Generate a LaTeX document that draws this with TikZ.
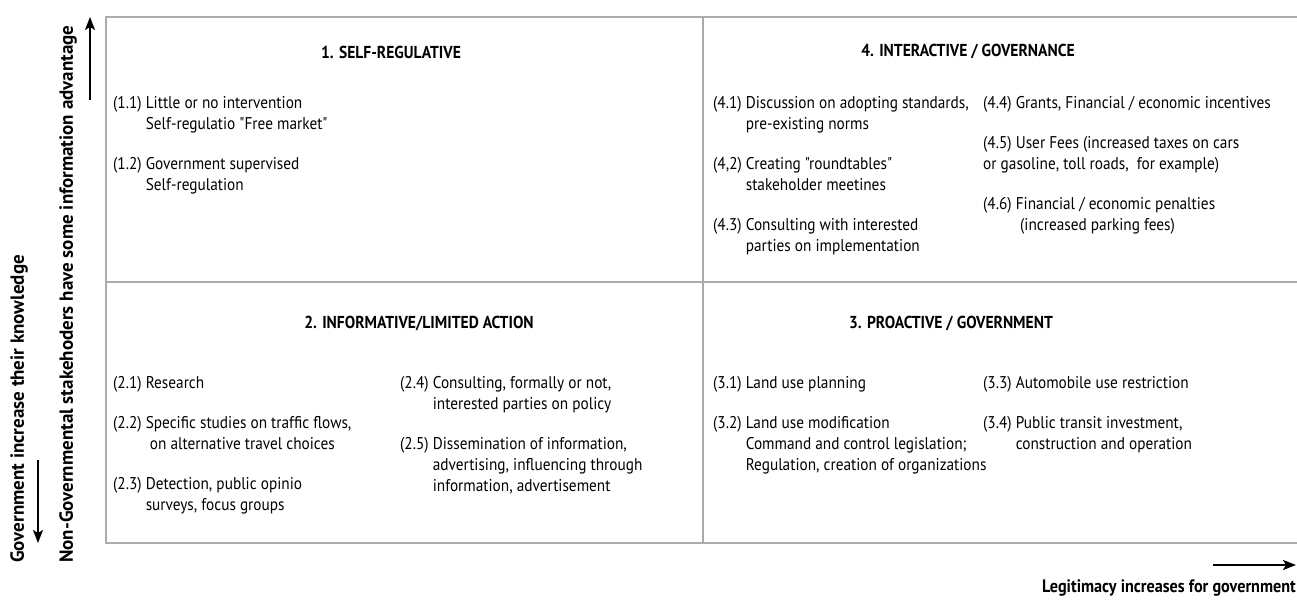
\documentclass[tikz,border=0pt]{standalone}
\usepackage{fontspec}
\setmainfont{PT Sans}[FakeStretch=0.9, Ligatures=TeXOff]
\newfontfamily\sidefont{PT Sans}[Ligatures=TeXOff]
\usetikzlibrary{arrows.meta}
\definecolor{gridgray}{HTML}{ABABAB}
\newcommand\ind{\phantom{(1.1) }}
\newcommand\gap{\\[19pt]}
\begin{document}
\begin{tikzpicture}[x=1pt,y=-1pt,
  grid/.style={draw=gridgray, line width=2pt},
  arr/.style={line width=2pt, -{Stealth[length=13pt,width=10pt,inset=3pt]}},
  title/.style={font=\fontsize{17.3}{20}\selectfont\bfseries, inner sep=0},
  col/.style={anchor=north west, align=left, inner sep=0, font=\fontsize{17}{21}\selectfont},
  side/.style={font=\sidefont\fontsize{19}{23}\selectfont\bfseries, rotate=90, anchor=west, inner sep=0},
  bot/.style={font=\fontsize{18}{20}\selectfont\bfseries, anchor=east, inner sep=0}]
\useasboundingbox (0,0) rectangle (1297,601);
% frame
\draw[grid] (1297,17) -- (106,17) -- (106,543) -- (1297,543);
\draw[grid] (703,17) -- (703,543);
\draw[grid] (106,282) -- (1297,282);
% titles
\node[title] (t1) at (391,52) {1. SELF-REGULATIVE};
\node[title] (t4) at (968,52) {4. INTERACTIVE / GOVERNANCE};
\node[title] (t2) at (419,324) {2. INFORMATIVE/LIMITED ACTION};
\node[title] (t3) at (951,324) {3. PROACTIVE / GOVERNMENT};
% quadrant 1
\node[col] (q1) at (113,96) {(1.1) Little or no intervention\\
\ind Self-regulatio "Free market"\gap
(1.2) Government supervised\\
\ind Self-regulation};
% quadrant 4
\node[col] (q4a) at (713,96) {(4.1) Discussion on adopting standards,\\
\ind pre-existing norms\gap
(4,2) Creating "roundtables"\\
\ind stakeholder meetines\gap
(4.3) Consulting with interested\\
\ind parties on implementation};
\node[col] (q4b) at (983,96) {(4.4) Grants, Financial / economic incentives\gap
(4.5) User Fees (increased taxes on cars\\
or gasoline, toll roads,\ \ for example)\gap
(4.6) Financial / economic penalties\\
\hspace*{37pt}(increased parking fees)};
% quadrant 2
\node[col] (q2a) at (113,376) {(2.1) Research\gap
(2.2) Specific studies on traffic flows,\\
\ind\ on alternative travel choices\gap
(2.3) Detection, public opinio\\
\ind surveys, focus groups};
\node[col] (q2b) at (400,376) {(2.4) Consulting, formally or not,\\
\ind interested parties on policy\gap
(2.5) Dissemination of information,\\
\ind advertising, influencing through\\
\ind information, advertisement};
% quadrant 3
\node[col] (q3a) at (713,376) {(3.1) Land use planning\gap
(3.2) Land use modification\\
\ind Command and control legislation;\\
\ind Regulation, creation of organizations};
\node[col] (q3b) at (983,376) {(3.3) Automobile use restriction\gap
(3.4) Public transit investment,\\
\ind construction and operation};
% side labels
\node[side] (nongov) at (68,563) {Non-Governmental stakehoders have some information advantage};
\node[side] (govk) at (19,563) {Government increase their knowledge};
\node[bot] (legit) at (1296,588) {Legitimacy increases for government};
% arrows
\coordinate (ua1) at (90,100); \coordinate (ua2) at (90,17);
\coordinate (da1) at (38,460); \coordinate (da2) at (38,543);
\coordinate (ra1) at (1213,565); \coordinate (ra2) at (1296,565);
\draw[arr] (ua1) -- (ua2);
\draw[arr] (da1) -- (da2);
\draw[arr] (ra1) -- (ra2);
\end{tikzpicture}
\end{document}
